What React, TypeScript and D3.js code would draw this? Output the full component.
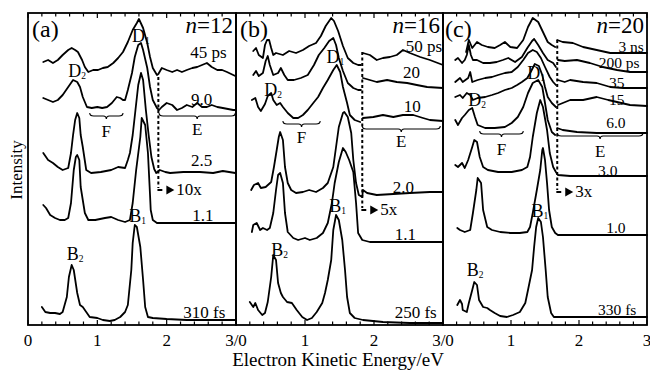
import React from 'react';
import * as d3 from 'd3';

type Pt = [number, number | null];

// ---------- Panel (a) n=12 : energy (eV), stacked intensity (arb.) ----------
const a45: Pt[] = [[0.22,263],[0.29,265],[0.36,262],[0.43,265],[0.50,270],[0.58,275],[0.63,277],[0.68,275],[0.72,273],[0.78,265],[0.82,258],[0.87,253],[0.94,255],[1.01,255],[1.08,257],[1.15,258],[1.23,262],[1.30,267],[1.37,273],[1.44,283],[1.51,295],[1.57,302],[1.60,306],[1.66,297],[1.72,282],[1.76,268],[1.80,257],[1.86,250],[1.88,251],[1.93,257],[2.00,255],[2.08,253],[2.15,255],[2.22,253],[2.29,255],[2.37,257],[2.44,258],[2.51,260],[2.58,262],[2.65,258],[2.73,255],[2.80,255],[2.87,253],[2.96,250],[2.99,249]];
const a9: Pt[] = [[0.22,227],[0.29,225],[0.36,223],[0.43,225],[0.50,230],[0.58,238],[0.65,245],[0.71,243],[0.75,238],[0.79,228],[0.85,218],[0.92,217],[1.00,218],[1.07,217],[1.14,218],[1.21,222],[1.28,228],[1.33,227],[1.37,225],[1.40,225],[1.44,235],[1.50,252],[1.54,268],[1.59,280],[1.63,282],[1.66,275],[1.72,257],[1.76,238],[1.80,225],[1.86,217],[1.89,215],[1.93,218],[2.00,222],[2.08,220],[2.15,215],[2.22,217],[2.29,220],[2.37,218],[2.44,222],[2.51,218],[2.58,218],[2.65,220],[2.73,218],[2.81,217],[2.96,215],[2.99,215]];
const a25: Pt[] = [[0.22,172],[0.29,165],[0.36,162],[0.43,158],[0.50,155],[0.58,157],[0.62,172],[0.65,190],[0.68,205],[0.71,212],[0.74,207],[0.76,190],[0.79,178],[0.84,155],[0.91,152],[1.05,153],[1.20,155],[1.30,158],[1.40,157],[1.44,165],[1.47,172],[1.51,190],[1.55,215],[1.59,240],[1.63,252],[1.66,245],[1.70,215],[1.74,190],[1.78,168],[1.82,156],[1.85,152],[1.90,155],[1.98,153],[2.05,152],[2.24,153],[2.48,153],[2.67,152],[2.81,154],[2.99,152]];
const a11: Pt[] = [[0.22,120],[0.26,117],[0.32,110],[0.39,107],[0.46,105],[0.53,105],[0.58,107],[0.62,122],[0.66,155],[0.69,168],[0.71,170],[0.74,165],[0.76,138],[0.82,112],[0.87,105],[0.97,105],[1.11,107],[1.20,108],[1.30,105],[1.40,103],[1.47,105],[1.51,122],[1.56,155],[1.62,188],[1.64,207],[1.69,200],[1.73,172],[1.76,130],[1.77,115],[1.80,105],[1.86,102],[2.05,102],[2.48,102],[2.99,102]];
const a310: Pt[] = [[0.20,18],[0.25,13],[0.32,12],[0.39,12],[0.46,11],[0.50,13],[0.56,28],[0.59,48],[0.63,60],[0.66,55],[0.71,32],[0.75,20],[0.79,18],[0.84,13],[0.89,8],[1.00,7],[1.08,5],[1.18,4],[1.25,5],[1.33,8],[1.40,13],[1.44,20],[1.49,55],[1.51,82],[1.54,100],[1.57,98],[1.62,78],[1.66,45],[1.69,18],[1.73,8],[1.80,7],[2.00,6],[2.29,5],[2.99,5]];

// ---------- Panel (b) n=16 ----------
const b50: Pt[] = [[0.25,274],[0.29,277],[0.33,270],[0.39,267],[0.42,280],[0.45,285],[0.48,285],[0.51,277],[0.54,270],[0.58,272],[0.68,270],[0.77,274],[0.87,272],[0.97,275],[1.06,279],[1.16,282],[1.23,289],[1.30,299],[1.38,307],[1.42,304],[1.48,294],[1.55,279],[1.62,267],[1.70,262],[1.77,260],[1.81,260],[1.82,null],[1.84,272],[1.94,270],[2.04,265],[2.13,267],[2.23,268],[2.33,270],[2.42,275],[2.52,272],[2.67,268],[2.81,265],[3.00,260]];
const b20: Pt[] = [[0.25,250],[0.29,254],[0.33,249],[0.39,252],[0.43,264],[0.46,269],[0.49,260],[0.54,250],[0.61,252],[0.65,257],[0.70,250],[0.75,245],[0.84,245],[0.94,247],[1.04,250],[1.13,260],[1.20,270],[1.28,277],[1.35,284],[1.41,287],[1.45,280],[1.49,267],[1.55,254],[1.62,242],[1.70,237],[1.77,235],[1.81,235],[1.82,null],[1.84,247],[1.94,245],[2.04,243],[2.19,245],[2.33,243],[2.48,242],[2.62,240],[2.77,238],[3.00,237]];
const b10: Pt[] = [[0.23,225],[0.28,227],[0.32,218],[0.36,214],[0.42,221],[0.46,229],[0.51,232],[0.54,225],[0.59,220],[0.64,222],[0.68,218],[0.75,212],[0.83,207],[0.90,207],[0.97,210],[1.04,215],[1.12,222],[1.19,228],[1.26,237],[1.33,245],[1.41,255],[1.46,260],[1.51,253],[1.55,238],[1.61,222],[1.65,210],[1.72,205],[1.80,203],[1.82,null],[1.84,207],[1.99,208],[2.13,210],[2.28,208],[2.42,210],[2.57,210],[2.71,207],[2.81,205],[3.00,204]];
const b2: Pt[] = [[0.22,135],[0.26,140],[0.32,142],[0.36,137],[0.43,138],[0.51,143],[0.55,158],[0.59,175],[0.62,188],[0.64,193],[0.68,185],[0.71,158],[0.75,142],[0.80,135],[0.87,132],[0.97,133],[1.06,135],[1.16,133],[1.26,137],[1.33,142],[1.41,158],[1.45,178],[1.49,198],[1.55,212],[1.57,213],[1.62,208],[1.67,192],[1.70,165],[1.74,142],[1.78,130],[1.83,128],[1.84,135],[1.90,132],[2.04,130],[2.28,131],[2.52,132],[2.81,133],[3.00,133]];
const b11: Pt[] = [[0.23,93],[0.25,100],[0.30,102],[0.35,95],[0.39,97],[0.45,95],[0.49,97],[0.54,112],[0.58,135],[0.61,150],[0.64,152],[0.68,142],[0.71,112],[0.75,93],[0.83,87],[0.90,85],[1.00,87],[1.07,85],[1.17,87],[1.26,92],[1.33,102],[1.39,122],[1.43,142],[1.49,163],[1.55,177],[1.59,173],[1.64,165],[1.70,153],[1.74,122],[1.77,92],[1.83,85],[1.94,83],[2.28,83],[3.00,83]];
const b250: Pt[] = [[0.20,23],[0.25,18],[0.28,22],[0.32,15],[0.38,10],[0.42,12],[0.46,23],[0.51,48],[0.54,70],[0.58,65],[0.61,42],[0.65,32],[0.68,28],[0.74,23],[0.81,22],[0.88,15],[0.96,8],[1.03,5],[1.10,7],[1.17,13],[1.25,22],[1.29,32],[1.33,45],[1.38,65],[1.41,95],[1.45,110],[1.49,105],[1.54,85],[1.58,55],[1.61,28],[1.65,12],[1.72,7],[1.84,5],[2.13,3],[2.52,2],[3.00,2]];

// ---------- Panel (c) n=20 ----------
const c3ns: Pt[] = [[0.34,273],[0.38,285],[0.43,277],[0.50,283],[0.57,280],[0.66,278],[0.76,277],[0.84,280],[0.91,283],[0.99,278],[1.09,277],[1.18,285],[1.25,298],[1.32,307],[1.40,303],[1.47,293],[1.54,283],[1.60,280],[1.65,278],[1.66,null],[1.68,285],[1.76,283],[1.91,282],[2.06,278],[2.26,275],[2.46,272],[2.65,272],[2.85,272],[3.00,272]];
const c200: Pt[] = [[0.18,265],[0.22,267],[0.28,262],[0.32,265],[0.35,270],[0.38,280],[0.41,270],[0.44,265],[0.50,265],[0.59,262],[0.69,262],[0.79,263],[0.88,265],[0.96,267],[1.06,263],[1.16,268],[1.24,277],[1.31,284],[1.34,286],[1.40,280],[1.47,272],[1.54,265],[1.62,262],[1.66,258],[1.67,null],[1.69,265],[1.79,264],[1.97,265],[2.16,262],[2.35,258],[2.56,255],[2.75,253],[3.00,253]];
const c35: Pt[] = [[0.18,243],[0.25,247],[0.29,243],[0.37,247],[0.40,253],[0.43,243],[0.51,245],[0.62,247],[0.72,248],[0.81,250],[0.91,252],[1.01,253],[1.10,258],[1.18,265],[1.25,272],[1.32,275],[1.38,273],[1.44,267],[1.50,258],[1.57,248],[1.62,243],[1.66,240],[1.67,null],[1.69,245],[1.79,243],[1.87,245],[2.06,243],[2.26,242],[2.46,238],[2.65,237],[3.00,237]];
const c15: Pt[] = [[0.18,228],[0.25,230],[0.29,227],[0.35,232],[0.40,230],[0.44,225],[0.51,227],[0.62,228],[0.72,230],[0.81,232],[0.91,235],[1.01,237],[1.09,240],[1.16,243],[1.24,247],[1.29,253],[1.35,261],[1.41,259],[1.46,250],[1.50,238],[1.54,228],[1.60,222],[1.66,218],[1.67,null],[1.69,220],[1.87,225],[2.06,225],[2.26,228],[2.43,225],[2.75,220],[3.00,219]];
const c6: Pt[] = [[0.18,205],[0.22,200],[0.28,207],[0.32,210],[0.38,215],[0.43,217],[0.47,208],[0.51,200],[0.62,197],[0.76,197],[0.91,198],[1.01,202],[1.10,208],[1.18,218],[1.25,232],[1.32,242],[1.40,245],[1.46,238],[1.50,222],[1.54,205],[1.60,193],[1.65,190],[1.66,null],[1.68,197],[1.76,195],[1.97,193],[2.26,192],[2.56,192],[3.00,192]];
const c3: Pt[] = [[0.18,160],[0.22,158],[0.28,162],[0.32,157],[0.37,165],[0.43,178],[0.46,185],[0.50,183],[0.54,168],[0.59,158],[0.66,155],[0.81,153],[1.01,153],[1.16,155],[1.24,158],[1.28,168],[1.32,188],[1.38,212],[1.43,225],[1.47,218],[1.53,195],[1.57,172],[1.62,158],[1.66,153],[1.69,150],[1.87,149],[2.31,149],[3.00,149]];
const c1: Pt[] = [[0.21,97],[0.25,95],[0.32,93],[0.40,95],[0.44,112],[0.49,135],[0.51,147],[0.56,142],[0.59,115],[0.65,98],[0.72,95],[0.84,93],[0.99,92],[1.13,92],[1.24,93],[1.28,98],[1.32,112],[1.38,135],[1.43,155],[1.46,175],[1.47,177],[1.50,165],[1.53,142],[1.56,115],[1.60,98],[1.65,92],[1.69,90],[3.00,90]];
const c330: Pt[] = [[0.21,20],[0.25,25],[0.28,21],[0.29,15],[0.35,13],[0.38,22],[0.43,35],[0.46,43],[0.50,40],[0.53,25],[0.59,18],[0.65,17],[0.69,15],[0.76,12],[0.84,9],[0.94,8],[1.03,10],[1.13,13],[1.21,22],[1.25,35],[1.31,55],[1.34,78],[1.37,98],[1.40,107],[1.44,103],[1.47,88],[1.51,55],[1.54,28],[1.59,12],[1.63,8],[1.76,8],[2.01,8],[3.00,8]];

// ---------- labels ----------
const panelLetters = ['(a)', '(b)', '(c)'];
const clusterSizes = ['12', '16', '20'];
const delaysA = ['45 ps', '9.0', '2.5', '1.1', '310 fs'];
const delaysB = ['50 ps', '20', '10', '2.0', '1.1', '250 fs'];
const delaysC = ['3 ns', '200 ps', '35', '15', '6.0', '3.0', '1.0', '330 fs'];
const magnifications = ['10x', '5x', '3x'];
const tickValues = [0, 1, 2, 3];
const tickLabelsA = ['0', '1', '2', '3/0'];
const tickLabelsB = ['', '1', '2', '3/0'];
const tickLabelsC = ['', '1', '2', '3'];
const xTitle = 'Electron Kinetic Energy/eV';
const yTitle = 'Intensity';

const FONT = "Liberation Serif, Times New Roman, DejaVu Serif, serif";

type PeakLabel = { base: string; sub: string; e: number; v: number };
type Bracket = { name: string; e0: number; e1: number; v: number; lv: number };

const panels = [
  {
    x0: 28, x1: 236, traces: [a45, a9, a25, a11, a310], delays: delaysA, tickLabels: tickLabelsA, delaySize: 17,
    delayPos: [[2.34, 267], [2.35, 220], [2.35, 159], [2.37, 104], [2.24, 7]],
    peaks: [
      { base: 'D', sub: '2', e: 0.58, v: 248 }, { base: 'D', sub: '1', e: 1.50, v: 283 },
      { base: 'B', sub: '2', e: 0.56, v: 65 }, { base: 'B', sub: '1', e: 1.46, v: 103 },
    ] as PeakLabel[],
    brackets: [
      { name: 'F', e0: 0.89, e1: 1.37, v: 209, lv: 188 },
      { name: 'E', e0: 1.89, e1: 2.99, v: 209, lv: 190 },
    ] as Bracket[],
    dot: { e: 1.88, top: 248, bottom: 137, hook: 135 },
  },
  {
    x0: 236, x1: 443, traces: [b50, b20, b10, b2, b11, b250], delays: delaysB, tickLabels: tickLabelsB, delaySize: 17,
    delayPos: [[2.46, 273], [2.42, 247], [2.43, 213], [2.27, 132], [2.30, 85], [2.30, 7]],
    peaks: [
      { base: 'D', sub: '2', e: 0.41, v: 229 }, { base: 'D', sub: '1', e: 1.31, v: 262 },
      { base: 'B', sub: '2', e: 0.51, v: 69 }, { base: 'B', sub: '1', e: 1.35, v: 113 },
    ] as PeakLabel[],
    brackets: [
      { name: 'F', e0: 0.68, e1: 1.22, v: 201, lv: 182 },
      { name: 'E', e0: 1.83, e1: 2.96, v: 196, lv: 178 },
    ] as Bracket[],
    dot: { e: 1.83, top: 273, bottom: 117, hook: 115 },
  },
  {
    x0: 443, x1: 647, traces: [c3ns, c200, c35, c15, c6, c3, c1, c330], delays: delaysC, tickLabels: tickLabelsC, delaySize: 15.5,
    delayPos: [[2.58, 273], [2.29, 257], [2.44, 237], [2.44, 220], [2.40, 197], [2.28, 149], [2.40, 92], [2.28, 10]],
    peaks: [
      { base: 'D', sub: '2', e: 0.37, v: 219 }, { base: 'D', sub: '1', e: 1.24, v: 246 },
      { base: 'B', sub: '2', e: 0.35, v: 49 }, { base: 'B', sub: '1', e: 1.30, v: 108 },
    ] as PeakLabel[],
    brackets: [
      { name: 'F', e0: 0.54, e1: 1.18, v: 191, lv: 170 },
      { name: 'E', e0: 1.68, e1: 2.94, v: 189, lv: 168 },
    ] as Bracket[],
    dot: { e: 1.68, top: 285, bottom: 135, hook: 133 },
  },
];

const TOP = 13;
const BOTTOM = 325;

export default function App() {
  const y = d3.scaleLinear().domain([0, 312]).range([BOTTOM, TOP]);
  const minor = d3.range(0, 3.0001, 0.2);

  return (
    <svg width={650} height={370} style={{ position: 'fixed', left: 0, top: 0, background: '#fff', fontFamily: FONT }}>
      <rect x={0} y={0} width={650} height={370} fill="#fff" />
      {panels.map((p, pi) => {
        const x = d3.scaleLinear().domain([0, 3]).range([p.x0, p.x1]);
        const line = d3.line<Pt>()
          .defined(d => d[1] !== null)
          .x(d => x(d[0]))
          .y(d => y(d[1] as number));
        const dx = x(p.dot.e);
        const hy = y(p.dot.hook);
        return (
          <g key={pi}>
            {p.traces.map((t, ti) => (
              <path key={ti} d={line(t) || ''} fill="none" stroke="#000" strokeWidth={1.8}
                strokeLinejoin="round" strokeLinecap="round" />
            ))}
            {/* dotted separator + magnification */}
            <line x1={dx} x2={dx} y1={y(p.dot.top)} y2={y(p.dot.bottom)} stroke="#000"
              strokeWidth={2} strokeDasharray="3,2.5" />
            <path d={`M${dx},${y(p.dot.bottom) + 1} L${dx},${hy} L${dx + 4},${hy}`} fill="none" stroke="#000" strokeWidth={1.8} />
            <path d={`M${dx + 8},${hy - 4.5} L${dx + 16},${hy} L${dx + 8},${hy + 4.5} Z`} fill="#000" />
            <text x={dx + 18} y={hy + 5} fontSize={17}>{magnifications[pi]}</text>
            {/* brackets */}
            {p.brackets.map((b, bi) => {
              const bx0 = x(b.e0), bx1 = x(b.e1), by = y(b.v), bm = (bx0 + bx1) / 2;
              const d = `M${bx0},${by - 3} Q${bx0},${by} ${bx0 + 4},${by} L${bm - 3},${by} Q${bm},${by} ${bm},${by + 3} Q${bm},${by} ${bm + 3},${by} L${bx1 - 4},${by} Q${bx1},${by} ${bx1},${by - 3}`;
              return (
                <g key={bi}>
                  <path d={d} fill="none" stroke="#000" strokeWidth={1.1} />
                  <text x={bm} y={y(b.lv)} fontSize={17} textAnchor="middle">{b.name}</text>
                </g>
              );
            })}
            {/* peak labels */}
            {p.peaks.map((pk, ki) => (
              <text key={ki} x={x(pk.e)} y={y(pk.v)} fontSize={18}>
                {pk.base}<tspan fontSize={9.5} dy={2}>{pk.sub}</tspan>
              </text>
            ))}
            {/* delay labels */}
            {p.delays.map((lab, li) => (
              <text key={li} x={x(p.delayPos[li][0])} y={y(p.delayPos[li][1])} fontSize={p.delaySize}>{lab}</text>
            ))}
            {/* frame */}
            <rect x={p.x0} y={TOP} width={p.x1 - p.x0} height={BOTTOM - TOP} fill="none" stroke="#000" strokeWidth={1.8} />
            {minor.map((v, i) => (
              <g key={i}>
                <line x1={x(v)} x2={x(v)} y1={BOTTOM} y2={BOTTOM - (i % 5 === 0 ? 5 : 3.5)} stroke="#000" strokeWidth={1.2} />
                <line x1={x(v)} x2={x(v)} y1={TOP} y2={TOP + (i % 5 === 0 ? 5 : 3.5)} stroke="#000" strokeWidth={1.2} />
              </g>
            ))}
            {tickValues.map((v, i) => p.tickLabels[i] ? (
              <text key={`t${i}`} x={x(v)} y={346} fontSize={17} textAnchor="middle">{p.tickLabels[i]}</text>
            ) : null)}
            {/* panel letter and cluster size */}
            <text x={p.x0 + (pi === 2 ? 2 : 4)} y={37} fontSize={24}>{panelLetters[pi]}</text>
            <text x={p.x1 - 3} y={33} fontSize={23} textAnchor="end">
              <tspan fontStyle="italic">n</tspan>={clusterSizes[pi]}
            </text>
          </g>
        );
      })}
      <text x={338} y={366} fontSize={19} textAnchor="middle">{xTitle}</text>
      <text transform="translate(22,170) rotate(-90)" fontSize={17} textAnchor="middle">{yTitle}</text>
    </svg>
  );
}
